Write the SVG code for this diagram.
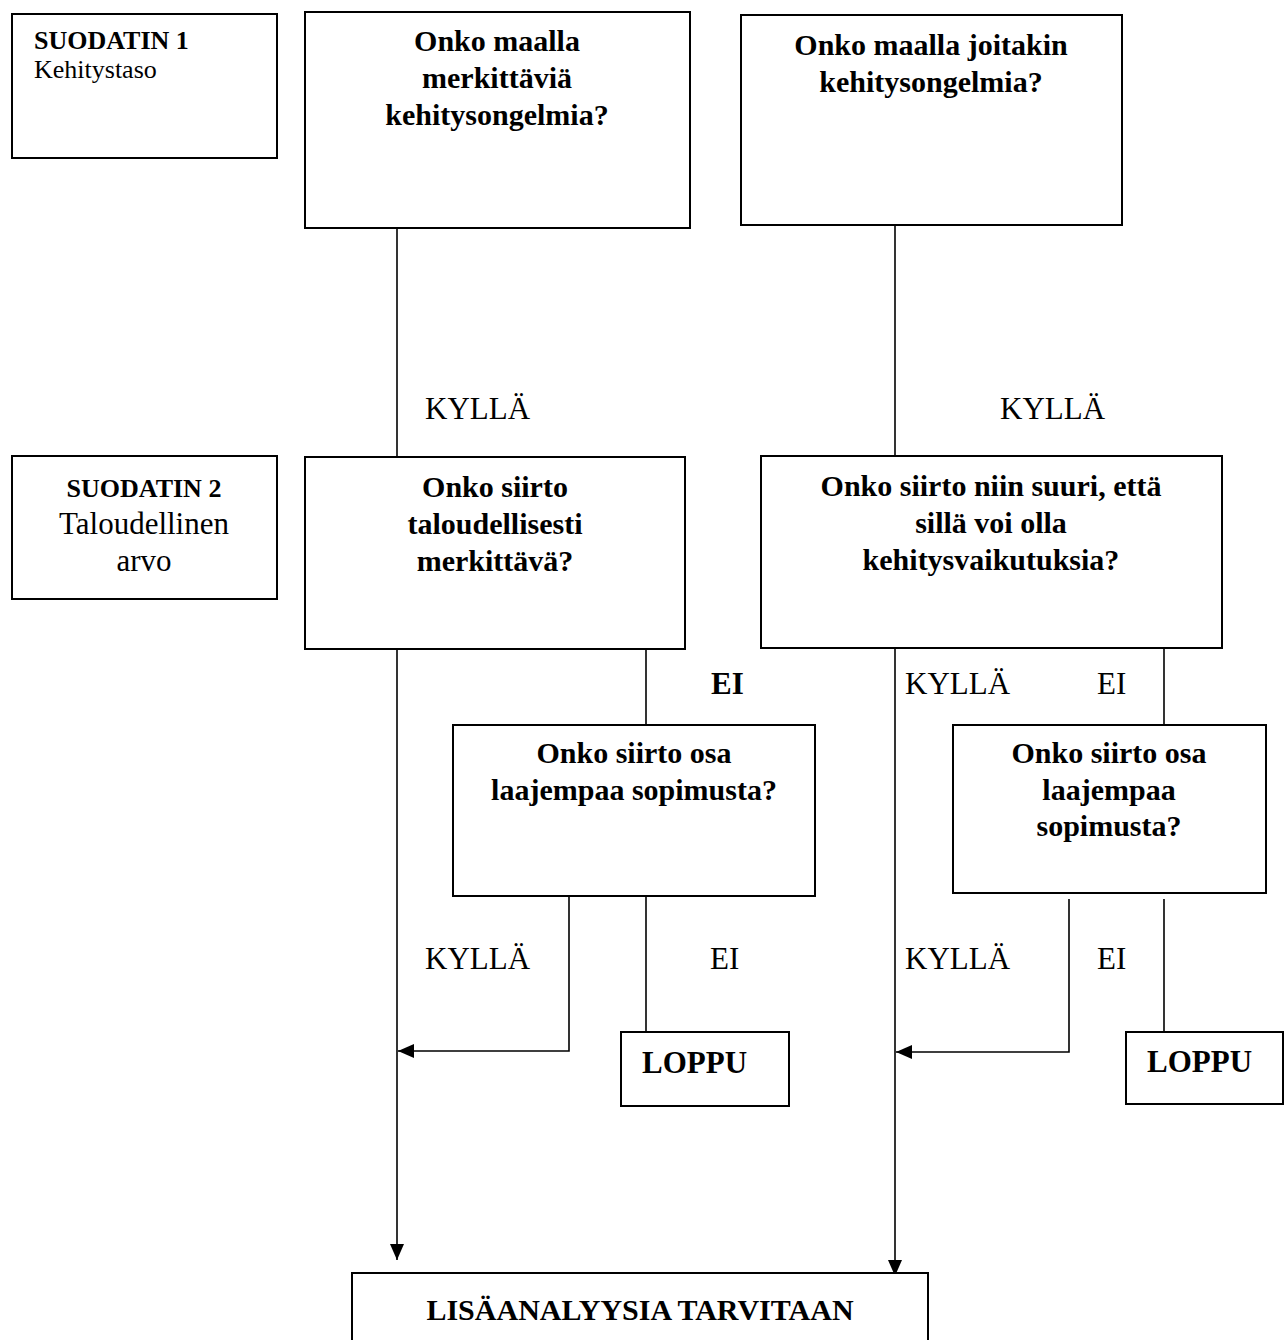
<svg xmlns="http://www.w3.org/2000/svg" width="1285" height="1340" viewBox="0 0 1285 1340">
<style>
.box{fill:#fff;stroke:#000;stroke-width:2}
.ln{fill:none;stroke:#000;stroke-width:1.6}
.q{font-family:"Liberation Serif","Times New Roman",serif;font-weight:bold;font-size:30px;text-anchor:middle;fill:#000}
.lb{font-family:"Liberation Serif","Times New Roman",serif;font-size:31px;fill:#000}
.lbb{font-family:"Liberation Serif","Times New Roman",serif;font-size:31px;font-weight:bold;fill:#000}
.s{font-family:"Liberation Serif","Times New Roman",serif;font-size:26px;fill:#000}
</style>
<defs>
<marker id="arr" viewBox="0 0 16 14" refX="16" refY="7" markerWidth="16" markerHeight="14" orient="auto" markerUnits="userSpaceOnUse">
<path d="M0,0 L16,7 L0,14 z" fill="#000"/>
</marker>
</defs>
<rect width="1285" height="1340" fill="#fff"/>

<g id="connectors">
<line class="ln" x1="397" y1="228" x2="397" y2="457"/>
<line class="ln" x1="895" y1="225" x2="895" y2="456"/>
<line class="ln" x1="397" y1="649" x2="397" y2="1260" marker-end="url(#arr)"/>
<line class="ln" x1="646" y1="649" x2="646" y2="725"/>
<line class="ln" x1="895" y1="648" x2="895" y2="1276" marker-end="url(#arr)"/>
<line class="ln" x1="1164" y1="648" x2="1164" y2="725"/>
<path class="ln" d="M569,896 V1051 H398" marker-end="url(#arr)"/>
<line class="ln" x1="646" y1="896" x2="646" y2="1032"/>
<path class="ln" d="M1069,899 V1052 H896" marker-end="url(#arr)"/>
<line class="ln" x1="1164" y1="899" x2="1164" y2="1032"/>
<text class="lb" x="425" y="419">KYLLÄ</text>
<text class="lb" x="1000" y="419">KYLLÄ</text>
<text class="lbb" x="711" y="694">EI</text>
<text class="lb" x="905" y="694">KYLLÄ</text>
<text class="lb" x="1097" y="694">EI</text>
<text class="lb" x="425" y="969">KYLLÄ</text>
<text class="lb" x="710" y="969">EI</text>
<text class="lb" x="905" y="969">KYLLÄ</text>
<text class="lb" x="1097" y="969">EI</text>
</g>

<g id="suodatin1">
<rect class="box" x="12" y="14" width="265" height="144"/>
<text class="s" x="34" y="49" font-weight="bold">SUODATIN 1</text>
<text class="s" x="34" y="78">Kehitystaso</text>
</g>

<g id="q1">
<rect class="box" x="305" y="12" width="385" height="216"/>
<text class="q" x="497" y="51">Onko maalla</text>
<text class="q" x="497" y="88">merkittäviä</text>
<text class="q" x="497" y="125">kehitysongelmia?</text>
</g>

<g id="q2">
<rect class="box" x="741" y="15" width="381" height="210"/>
<text class="q" x="931" y="55">Onko maalla joitakin</text>
<text class="q" x="931" y="92">kehitysongelmia?</text>
</g>

<g id="suodatin2">
<rect class="box" x="12" y="456" width="265" height="143"/>
<text class="s" x="144" y="497" font-weight="bold" text-anchor="middle">SUODATIN 2</text>
<text class="lb" x="144" y="534" text-anchor="middle">Taloudellinen</text>
<text class="lb" x="144" y="571" text-anchor="middle">arvo</text>
</g>

<g id="q3">
<rect class="box" x="305" y="457" width="380" height="192"/>
<text class="q" x="495" y="497">Onko siirto</text>
<text class="q" x="495" y="534">taloudellisesti</text>
<text class="q" x="495" y="571">merkittävä?</text>
</g>

<g id="q4">
<rect class="box" x="761" y="456" width="461" height="192"/>
<text class="q" x="991" y="496">Onko siirto niin suuri, että</text>
<text class="q" x="991" y="533">sillä voi olla</text>
<text class="q" x="991" y="570">kehitysvaikutuksia?</text>
</g>

<g id="q5">
<rect class="box" x="453" y="725" width="362" height="171"/>
<text class="q" x="634" y="763">Onko siirto osa</text>
<text class="q" x="634" y="800">laajempaa sopimusta?</text>
</g>

<g id="q6">
<rect class="box" x="953" y="725" width="313" height="168"/>
<text class="q" x="1109" y="763">Onko siirto osa</text>
<text class="q" x="1109" y="800">laajempaa</text>
<text class="q" x="1109" y="836">sopimusta?</text>
</g>

<g id="loppu1">
<rect class="box" x="621" y="1032" width="168" height="74"/>
<text class="lbb" x="642" y="1073" font-size="30">LOPPU</text>
</g>

<g id="loppu2">
<rect class="box" x="1126" y="1032" width="157" height="72"/>
<text class="lbb" x="1147" y="1072" font-size="30">LOPPU</text>
</g>

<g id="lisaanalyysi">
<rect class="box" x="352" y="1273" width="576" height="80"/>
<text class="q" x="640" y="1320" font-size="24">LISÄANALYYSIA TARVITAAN</text>
</g>
</svg>
